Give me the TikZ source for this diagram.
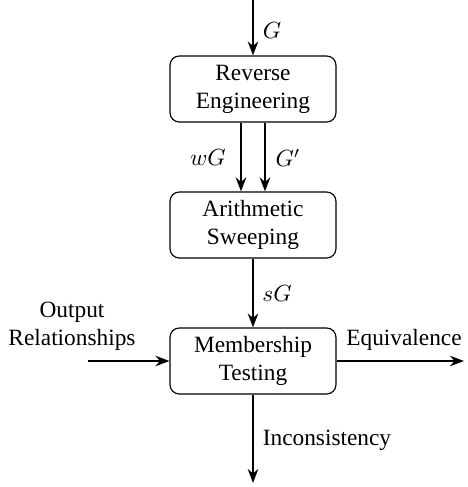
\documentclass[tikz,border=0pt]{standalone}
\usepackage{fontspec}
\setmainfont{Liberation Serif}
\usetikzlibrary{arrows.meta}
\begin{document}
\begin{tikzpicture}[x=0.4286pt,y=-0.4286pt,
  blk/.style={draw,rounded corners=4pt,minimum width=166*0.4286pt,minimum height=66*0.4286pt,align=center,inner sep=0pt,line width=0.5pt},
  arr/.style={-{Stealth[length=6pt,width=4.5pt]},line width=0.8pt},
  lbl/.style={inner sep=0pt}]
\useasboundingbox (0,0) rectangle (467,487);
\node[blk] (re) at (253,89) {Reverse\\Engineering};
\node[blk] (as) at (253,225) {Arithmetic\\Sweeping};
\node[blk] (mt) at (253,361) {Membership\\Testing};
\coordinate (top) at (253,0);
\coordinate (left) at (88,361);
\coordinate (right) at (464,361);
\coordinate (bot) at (253,483);
\draw[arr] (top) -- (re.north);
\draw[arr] ([xshift=-12*0.4286pt]re.south) -- ([xshift=-12*0.4286pt]as.north);
\draw[arr] ([xshift=12*0.4286pt]re.south) -- ([xshift=12*0.4286pt]as.north);
\draw[arr] (as.south) -- (mt.north);
\draw[arr] (left) -- (mt.west);
\draw[arr] (mt.east) -- (right);
\draw[arr] (mt.south) -- (bot);
\node[lbl] (lG) at (272,31) {$G$};
\node[lbl] (lwG) at (208,158) {$wG$};
\node[lbl] (lGp) at (288,158) {$G'$};
\node[lbl] (lsG) at (277,294) {$sG$};
\node[lbl,align=center] (lout) at (72,326) {Output\\Relationships};
\node[lbl] (leq) at (404,340) {Equivalence};
\node[lbl] (linc) at (327,440) {Inconsistency};
\end{tikzpicture}
\end{document}
